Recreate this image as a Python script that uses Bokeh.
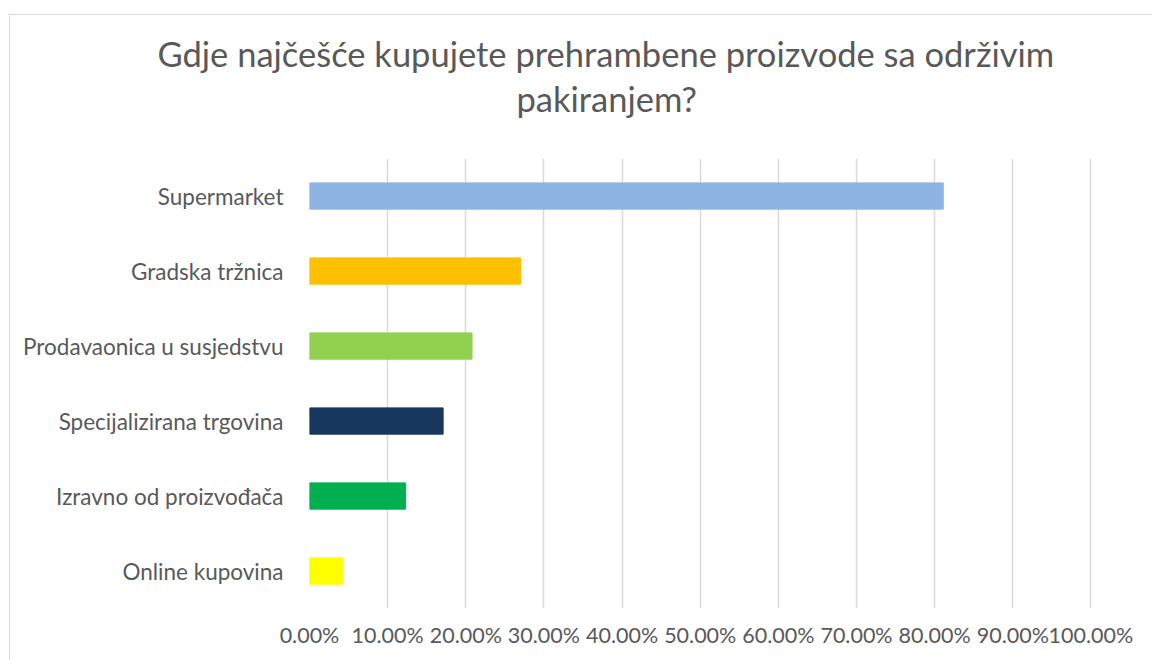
from bokeh.plotting import figure
from bokeh.layouts import column, row
from bokeh.models import FactorRange, Range1d, Title, NumeralTickFormatter, FixedTicker, ColumnDataSource, Spacer
from bokeh.embed import file_html
from bokeh.resources import INLINE

categories = ["Supermarket", "Gradska tržnica", "Prodavaonica u susjedstvu",
              "Specijalizirana trgovina", "Izravno od proizvođača", "Online kupovina"]
values = [0.811, 0.270, 0.208, 0.171, 0.123, 0.042]
colors = ["#8EB4E3", "#FFC000", "#92D050", "#17375E", "#00B050", "#FFFF00"]
x_ticks = [0.0, 0.1, 0.2, 0.3, 0.4, 0.5, 0.6, 0.7, 0.8, 0.9, 1.0]
title_lines = ["Gdje najčešće kupujete prehrambene proizvode sa održivim", "pakiranjem?"]

FONT = "Lato"
TEXT_COLOR = "#595959"
BORDER = "1.5px solid #d9d9d9"

src = ColumnDataSource(dict(cat=categories, val=values, color=colors))

p = figure(width=1143, height=646,
           y_range=FactorRange(*reversed(categories)),
           x_range=Range1d(0, 1.002),
           output_backend="svg", toolbar_location=None,
           min_border_left=299, min_border_right=61,
           min_border_top=143, min_border_bottom=53)
p.outline_line_color = None
p.background_fill_color = "white"
p.border_fill_color = "white"
p.styles = {"border-top": BORDER, "border-left": BORDER}

p.hbar(y="cat", right="val", left=0, height=0.35, color="color", source=src)

p.xgrid.ticker = FixedTicker(ticks=x_ticks)
p.xgrid.grid_line_color = "#d9d9d9"
p.xgrid.grid_line_width = 1.5
p.ygrid.grid_line_color = None

p.xaxis.ticker = FixedTicker(ticks=x_ticks)
p.xaxis.formatter = NumeralTickFormatter(format="0.00%")
p.xaxis.axis_line_color = None
p.xaxis.major_tick_line_color = None
p.xaxis.minor_tick_line_color = None
p.xaxis.major_label_text_font = FONT
p.xaxis.major_label_text_font_size = "21.5px"
p.xaxis.major_label_text_color = TEXT_COLOR
p.xaxis.major_label_standoff = 7

p.yaxis.axis_line_color = None
p.yaxis.major_tick_line_color = None
p.yaxis.minor_tick_line_color = None
p.yaxis.major_label_text_font = FONT
p.yaxis.major_label_text_font_size = "22.5px"
p.yaxis.major_label_text_color = TEXT_COLOR
p.yaxis.major_label_standoff = 20

# chart title: panels stack outward from the plot frame
p.add_layout(Title(text=" ", text_font_size="32px", standoff=0), "above")   # gap above the bars
title_offsets = [207, -152]   # left edge of each line relative to the frame's left edge
title_standoffs = [4, 0]
for line, off, stand in zip(reversed(title_lines), title_offsets, title_standoffs):
    p.add_layout(Title(text=line, align="left", offset=off, standoff=stand,
                       vertical_align="bottom",
                       text_font=FONT, text_font_size="34.5px", text_font_style="normal",
                       text_color=TEXT_COLOR), "above")

layout = column(Spacer(height=14), row(Spacer(width=9), p))

open("out.html", "w").write(file_html(layout, INLINE))
